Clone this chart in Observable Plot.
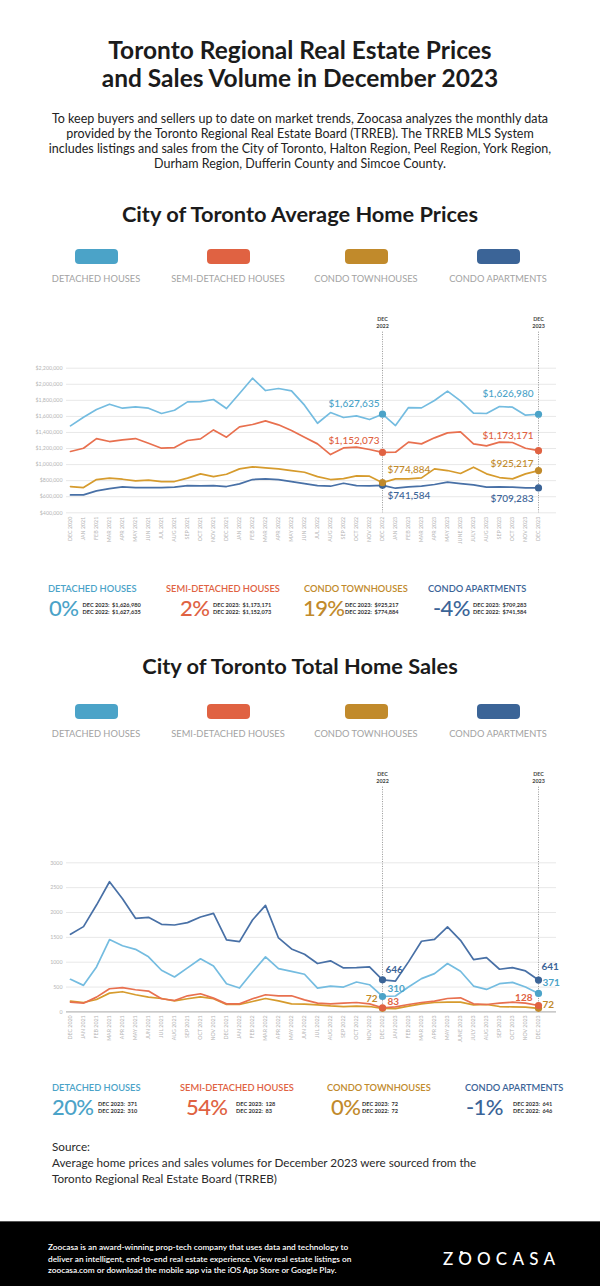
<!DOCTYPE html>
<html><head><meta charset="utf-8">
<script src="https://cdn.jsdelivr.net/npm/d3@7"></script>
<script src="https://cdn.jsdelivr.net/npm/@observablehq/plot@0.6"></script>
<style>
body{margin:0;background:#fff;font-family:Lato,"Open Sans",sans-serif;}
#page{position:relative;width:600px;height:1286px;overflow:hidden;background:#fff;}
#page div{position:absolute;white-space:nowrap;}
</style></head><body><div id="page"></div>
<script>
const months = ["DEC 2020","JAN 2021","FEB 2021","MAR 2021","APR 2021","MAY 2021","JUN 2021","JUL 2021","AUG 2021","SEP 2021","OCT 2021","NOV 2021","DEC 2021","JAN 2022","FEB 2022","MAR 2022","APR 2022","MAY 2022","JUN 2022","JUL 2022","AUG 2022","SEP 2022","OCT 2022","NOV 2022","DEC 2022","JAN 2023","FEB 2023","MAR 2023","APR 2023","MAY 2023","JUNE 2023","JULY 2023","AUG 2023","SEP 2023","OCT 2023","NOV 2023","DEC 2023"];
const seriesNames = ["DETACHED HOUSES","SEMI-DETACHED HOUSES","CONDO TOWNHOUSES","CONDO APARTMENTS"];
const swatchColors = ["#4BA3C8","#E06242","#C18A2B","#3B6497"];
const lineColors = ["#74BCE0","#E8704F","#D69B2D","#4870A6"];
const markedMonths = ["DEC 2022","DEC 2023"];

const detachedPrice = [1482000,1590000,1686000,1752000,1702000,1719000,1702000,1636000,1677000,1781000,1785000,1810000,1698000,1885000,2075000,1922000,1947000,1918000,1740000,1515000,1648000,1586000,1607000,1561000,1627635,1486000,1710000,1706000,1798000,1914000,1793000,1640000,1636000,1723000,1715000,1615000,1626980];
const semiPrice = [1163000,1204000,1324000,1287000,1307000,1324000,1266000,1204000,1212000,1300000,1320000,1432000,1341000,1470000,1499000,1544000,1495000,1424000,1341000,1258000,1125000,1208000,1217000,1188000,1152073,1154000,1279000,1258000,1333000,1395000,1407000,1258000,1233000,1279000,1275000,1204000,1173171];
const townPrice = [727000,714000,814000,831000,818000,797000,806000,789000,789000,831000,885000,851000,880000,947000,972000,959000,947000,926000,905000,851000,814000,826000,860000,856000,774884,822000,822000,835000,947000,926000,889000,968000,885000,839000,822000,885000,925217];
const aptPrice = [623000,623000,673000,702000,723000,714000,714000,714000,719000,739000,735000,739000,727000,760000,814000,822000,814000,789000,764000,739000,731000,768000,739000,735000,741584,706000,723000,731000,752000,781000,764000,748000,719000,723000,719000,710000,709283];

const detachedSales = [655,534,905,1455,1331,1259,1108,838,703,885,1068,926,567,480,804,1108,872,817,757,480,520,500,601,547,310,320,500,669,770,973,817,520,452,567,594,500,371];
const semiSales = [196,176,297,466,487,446,419,264,230,324,365,277,162,162,264,345,324,324,243,176,162,176,189,162,83,100,149,189,216,270,284,162,149,176,196,176,128];
const townSales = [216,189,250,378,406,345,297,270,223,264,304,264,149,149,210,270,223,162,155,142,122,108,115,108,72,65,115,162,189,196,196,142,149,108,101,95,72];
const aptSales = [1562,1716,2150,2619,2277,1883,1903,1762,1749,1796,1910,1983,1448,1414,1849,2144,1488,1267,1160,973,1027,885,892,905,646,620,1007,1421,1461,1709,1441,1053,1093,858,892,824,641];

const priceTicks = [400000,600000,800000,1000000,1200000,1400000,1600000,1800000,2000000,2200000];
const salesTicks = [0,500,1000,1500,2000,2500,3000];

const page = document.getElementById("page");
function add(html, style){const d=document.createElement("div");d.innerHTML=html;Object.assign(d.style,style);page.appendChild(d);return d;}
// cy = centre of the FIRST line
function centered(html, cy, size, lh, weight, color){
  add(html,{left:"0px",width:"600px",textAlign:"center",top:(cy-lh/2)+"px",fontSize:size+"px",lineHeight:lh+"px",fontWeight:weight,color:color});
}

// Title & intro
centered("Toronto Regional Real Estate Prices<br>and Sales Volume in December 2023",50,24.5,28,700,"#1b1b1b");
centered("To keep buyers and sellers up to date on market trends, Zoocasa analyzes the monthly data<br>provided by the Toronto Regional Real Estate Board (TRREB). The TRREB MLS System<br>includes listings and sales from the City of Toronto, Halton Region, Peel Region, York Region,<br>Durham Region, Dufferin County and Simcoe County.",118,12.5,15,400,"#222");

const legendX = [96,228,366,498];
function legend(cySwatch, cyLabel){
  seriesNames.forEach((n,i)=>{
    add("",{left:(legendX[i]-21.5)+"px",top:(cySwatch-7.5)+"px",width:"43px",height:"15px",borderRadius:"4px",background:swatchColors[i]});
    add(n,{left:(legendX[i]-80)+"px",width:"160px",textAlign:"center",top:(cyLabel-6)+"px",lineHeight:"12px",fontSize:"9.3px",color:"#a3a3a3"});
  });
}

function stats(values, fmt, cyLabel, labelX, pctX, smallX){
  values.forEach((vals,i)=>{
    const v22 = vals[months.indexOf("DEC 2022")], v23 = vals[months.indexOf("DEC 2023")];
    let pct = Math.round((v23-v22)/v22*100); if (pct===0) pct=0;
    add(seriesNames[i],{left:labelX[i]+"px",top:(cyLabel-6)+"px",lineHeight:"12px",fontSize:"9.3px",fontWeight:600,color:swatchColors[i]});
    add(pct+"%",{left:pctX[i]+"px",top:(cyLabel+19-13)+"px",lineHeight:"26px",fontSize:"22px",letterSpacing:"-0.6px",fontWeight:500,color:swatchColors[i]});
    add("DEC 2023:&nbsp; "+fmt(v23)+"<br>DEC 2022:&nbsp; "+fmt(v22),{left:smallX[i]+"px",top:(cyLabel+16-3.6)+"px",lineHeight:"7.1px",fontSize:"5.6px",fontWeight:700,color:"#333"});
  });
}

function makeChart(o){
  const series = o.series;
  const rowsOf = s => series[s].map((v,i)=>({month:months[i],value:v,s}));
  const marks = [
    Plot.ruleY(o.ticks,{y:d=>d,stroke:"#e8e8e8",strokeWidth:1,insetRight:-15}),
  ];
  if (o.darkBase) marks.push(Plot.ruleY([o.ticks[0]],{stroke:"#bdbdbd",strokeWidth:1.3,insetRight:-15}));
  marks.push(
    Plot.axisY({ticks:o.ticks,tickFormat:o.tickFmt,tickSize:0,tickPadding:4,fontSize:5.3,label:null}),
    Plot.axisX({tickRotate:-90,tickSize:0,tickPadding:o.xPad,fontSize:5.3,label:null}),
    Plot.ruleX(markedMonths,{x:d=>d,stroke:"#8a8a8a",strokeWidth:0.9,strokeDasharray:"1,1.4",insetTop:o.ruleInset}),
    Plot.text(markedMonths,{x:d=>d,text:d=>d.replace(" ","\n"),frameAnchor:"top",dy:o.decDy,lineHeight:1.35,fontSize:5.4,fontWeight:700,fill:"#444"})
  );
  [3,2,1,0].forEach(s=>marks.push(Plot.line(rowsOf(s),{x:"month",y:"value",stroke:lineColors[s],strokeWidth:1.7,curve:"linear"})));
  [3,2,1,0].forEach(s=>marks.push(Plot.dot(rowsOf(s).filter(d=>markedMonths.includes(d.month)),{x:"month",y:"value",r:3.6,fill:swatchColors[s],stroke:"none"})));
  o.labels.forEach(([s,m,anchor,dx,dy])=>{
    marks.push(Plot.text(rowsOf(s).filter(d=>d.month===m),{x:"month",y:"value",text:d=>o.valFmt(d.value),textAnchor:anchor,dx,dy,fill:swatchColors[s],fontSize:o.labelSize,fontWeight:o.labelWeight}));
  });
  return Plot.plot({
    width:600,height:o.height,marginLeft:66,marginRight:59,marginTop:o.marginTop,marginBottom:o.marginBottom,
    x:{type:"point",domain:months,padding:0},
    y:{domain:[o.ticks[0],o.ticks[o.ticks.length-1]]},
    style:{fontFamily:"Lato, sans-serif",background:"transparent",color:"#b5b5b5",overflow:"visible"},
    marks
  });
}

// Section 1
centered("City of Toronto Average Home Prices",214,21.8,26,700,"#1b1b1b");
legend(256,278.5);
const fmtPrice = d3.format("$,");
const chart1 = makeChart({
  series:[detachedPrice,semiPrice,townPrice,aptPrice],
  ticks:priceTicks, tickFmt:d=>fmtPrice(d), height:250, marginTop:67.7, marginBottom:37.7,
  ruleInset:-36, decDy:-52.3, xPad:4, darkBase:false, valFmt:fmtPrice, labelSize:10, labelWeight:500,
  labels:[[0,"DEC 2022","end",-3,-10],[1,"DEC 2022","end",-3,-12],[2,"DEC 2022","start",5,-13],[3,"DEC 2022","start",5,10],
          [0,"DEC 2023","end",-5,-20],[1,"DEC 2023","end",-5,-15],[2,"DEC 2023","end",-5,-7],[3,"DEC 2023","end",-5,11]]
});
const w1 = add("",{left:"0px",top:"300px"}); w1.appendChild(chart1);
stats([detachedPrice,semiPrice,townPrice,aptPrice],fmtPrice,588.6,[48,166,304,428],[49,180,303,433],[82.5,213,345,473]);

// Section 2
centered("City of Toronto Total Home Sales",666,21.8,26,700,"#1b1b1b");
legend(711.5,733.5);
const chart2 = makeChart({
  series:[detachedSales,semiSales,townSales,aptSales],
  ticks:salesTicks, tickFmt:d=>String(d), height:300, marginTop:112.3, marginBottom:38.6,
  ruleInset:-75.6, decDy:-92, xPad:3.5, darkBase:true, valFmt:d=>String(d), labelSize:10, labelWeight:700,
  labels:[[3,"DEC 2022","start",3,-10],[0,"DEC 2022","start",5,-8],[2,"DEC 2022","end",-5,-10],[1,"DEC 2022","start",5,-6],
          [3,"DEC 2023","start",3,-13],[0,"DEC 2023","start",4,-11],[1,"DEC 2023","end",-6,-8],[2,"DEC 2023","start",4,-4]]
});
const w2 = add("",{left:"0px",top:"750px"}); w2.appendChild(chart2);
stats([detachedSales,semiSales,townSales,aptSales],d=>String(d),1087.5,[52,180,327,465],[52,186,331,466],[98,236,362,513]);

// Source
add("Source:<br>Average home prices and sales volumes for December 2023 were sourced from the<br>Toronto Regional Real Estate Board (TRREB)",{left:"52px",top:(1146-8)+"px",lineHeight:"16px",fontSize:"11.7px",color:"#2a2a2a"});

// Footer
add("",{left:"0px",top:"1221px",width:"600px",height:"65px",background:"#000",borderTop:"1.5px solid #555"});
add("Zoocasa is an award-winning prop-tech company that uses data and technology to<br>deliver an intelligent, end-to-end real estate experience. View real estate listings on<br>zoocasa.com or download the mobile app via the iOS App Store or Google Play.",{left:"48px",top:"1242.3px",lineHeight:"11.3px",fontSize:"8.3px",fontWeight:600,color:"#fff"});
add("ZOOCASA",{left:"443px",top:"1249px",lineHeight:"20px",fontSize:"17px",fontWeight:500,letterSpacing:"5.2px",color:"#fff"});
add("",{left:"460px",top:"1251px",width:"2.6px",height:"2.6px",borderRadius:"50%",background:"#fff"});
</script>
</body></html>
